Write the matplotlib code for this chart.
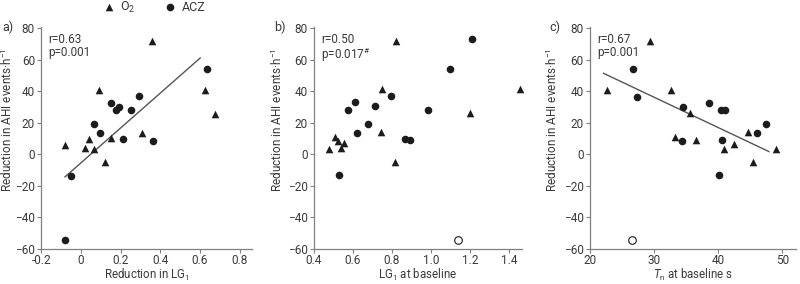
import matplotlib
matplotlib.use('Agg')
import matplotlib.pyplot as plt
import numpy as np

# ── data ──
# panel a: reduction in LG1
a_o2_x = [-0.080, 0.020, 0.042, 0.065, 0.092, 0.121, 0.154, 0.310, 0.360, 0.625, 0.675]
a_o2_y = [5.8, 3.8, 9.4, 3.3, 40.9, -5.3, 10.4, 13.2, 71.5, 40.9, 25.3]
a_acz_x = [-0.080, -0.052, 0.065, 0.095, 0.154, 0.176, 0.191, 0.213, 0.250, 0.293, 0.363, 0.635]
a_acz_y = [-54.3, -14.1, 18.9, 13.2, 32.7, 27.9, 29.9, 9.4, 27.9, 36.7, 8.4, 53.7]
a_fit_x = [-0.080, 0.601]
a_fit_y = [-14.5, 61.0]

# panel b: LG1 at baseline
b_o2_x = [0.477, 0.507, 0.525, 0.541, 0.555, 0.749, 0.745, 0.822, 0.813, 1.201, 1.456]
b_o2_y = [3.3, 11.1, 8.5, 4.0, 7.0, 41.5, 13.8, 71.5, -5.0, 26.2, 41.5]
b_acz_x = [0.528, 0.575, 0.609, 0.621, 0.677, 0.715, 0.796, 0.868, 0.890, 0.983, 1.097, 1.208]
b_acz_y = [-13.6, 27.9, 33.1, 13.2, 18.9, 30.4, 36.7, 9.4, 9.0, 27.9, 53.7, 73.0]
b_open_x = [1.136]
b_open_y = [-54.3]

# panel c: Tn at baseline
c_o2_x = [22.7, 29.3, 32.6, 33.2, 35.6, 36.5, 40.9, 42.4, 44.7, 45.5, 49.0]
c_o2_y = [40.9, 71.5, 40.9, 10.7, 25.8, 9.0, 3.3, 6.5, 13.8, -5.0, 3.1]
c_acz_x = [26.7, 27.3, 34.5, 34.4, 38.5, 40.2, 40.5, 41.1, 40.6, 46.0, 47.5]
c_acz_y = [53.7, 36.2, 29.9, 8.4, 32.7, -13.6, 27.9, 27.9, 9.0, 13.2, 19.1]
c_open_x = [26.6]
c_open_y = [-54.3]
c_fit_x = [22.1, 47.9]
c_fit_y = [51.3, 1.6]

TEXT = '#3a3a3a'
AXC = '#808080'
MK = '#1c1c1c'

plt.rcParams.update({
    'font.family': 'Roboto',
    'font.size': 8.5,
    'mathtext.fontset': 'custom',
    'mathtext.rm': 'Roboto',
    'mathtext.it': 'Roboto:italic',
    'text.color': TEXT,
    'axes.labelcolor': TEXT,
    'xtick.color': AXC,
    'ytick.color': AXC,
    'xtick.labelcolor': TEXT,
    'ytick.labelcolor': TEXT,
    'xtick.major.size': 3,
    'ytick.major.size': 3,
    'axes.edgecolor': AXC,
    'axes.linewidth': 0.9,
})

fig = plt.figure(figsize=(8, 2.84), dpi=100)
bottom = (284 - 248.5) / 284
height = (248.5 - 27.3) / 284
ax_a = fig.add_axes([0.0515, bottom, 0.263, height])
ax_b = fig.add_axes([0.3925, bottom, 0.2596, height])
ax_c = fig.add_axes([0.7375, bottom, 0.258, height])

ylabel = 'Reduction in AHI events·h$^{-1}$'
y_top = 1 - 27.3 / 284


def style(ax, xlim, xticks, xticklabels, xlabel, lab, lab_x, ylab_x, stats):
    ax.set_xlim(*xlim)
    ax.set_ylim(-60, 80.5)
    ax.set_yticks(np.arange(-60, 81, 20))
    ax.set_xticks(xticks)
    ax.set_xticklabels(xticklabels)
    ax.spines['top'].set_visible(False)
    ax.spines['right'].set_visible(False)
    ax.set_xlabel(xlabel, labelpad=-0.3, fontsize=8.3)
    ax.set_ylabel(ylabel)
    ax.yaxis.set_label_coords(ylab_x, 0.58)
    ax.tick_params(axis='x', pad=1)
    ax.tick_params(axis='y', pad=1.5)
    fig.text(lab_x / 800, y_top, lab, ha='left', va='center', fontsize=9)
    ax.text(0.035, 0.975, stats, transform=ax.transAxes, ha='left', va='top', linespacing=1.0)


def scat(ax, ox, oy, cx, cy):
    h1 = ax.scatter(ox, oy, marker='^', s=30, color=MK, linewidths=0, zorder=3, clip_on=False)
    h2 = ax.scatter(cx, cy, marker='o', s=30, color=MK, linewidths=0, zorder=3, clip_on=False)
    return h1, h2


h_tri, h_circ = scat(ax_a, a_o2_x, a_o2_y, a_acz_x, a_acz_y)
ax_a.plot(a_fit_x, a_fit_y, color='#555555', lw=1.0, zorder=2)
style(ax_a, (-0.2, 0.86), [-0.2, 0, 0.2, 0.4, 0.6, 0.8], ['-0.2', '0', '0.2', '0.4', '0.6', '0.8'],
      'Reduction in LG$_1$', 'a)', 2, -0.124, 'r=0.63\np=0.001')

scat(ax_b, b_o2_x, b_o2_y, b_acz_x, b_acz_y)
ax_b.scatter(b_open_x, b_open_y, marker='o', s=30, facecolors='white', edgecolors=MK, linewidths=0.8, zorder=3)
style(ax_b, (0.4, 1.465), [0.4, 0.6, 0.8, 1.0, 1.2, 1.4], ['0.4', '0.6', '0.8', '1.0', '1.2', '1.4'],
      'LG$_1$ at baseline', 'b)', 274, -0.14, 'r=0.50\np=0.017$^{\\#}$')

scat(ax_c, c_o2_x, c_o2_y, c_acz_x, c_acz_y)
ax_c.scatter(c_open_x, c_open_y, marker='o', s=30, facecolors='white', edgecolors=MK, linewidths=0.8, zorder=3)
ax_c.plot(c_fit_x, c_fit_y, color='#555555', lw=1.0, zorder=2)
style(ax_c, (20, 52.2), [20, 30, 40, 50], ['20', '30', '40', '50'],
      '$\\mathit{T}_\\mathrm{n}$ at baseline s', 'c)', 549, -0.145, 'r=0.67\np=0.001')

fig.legend([h_tri, h_circ], ['O$_2$', 'ACZ'], loc='center left', bbox_to_anchor=(0.122, 0.975),
           ncol=2, frameon=False, handlelength=0.8, handletextpad=0.5, columnspacing=2.4,
           borderpad=0, fontsize=9)

fig.savefig('out.png', dpi=100)
